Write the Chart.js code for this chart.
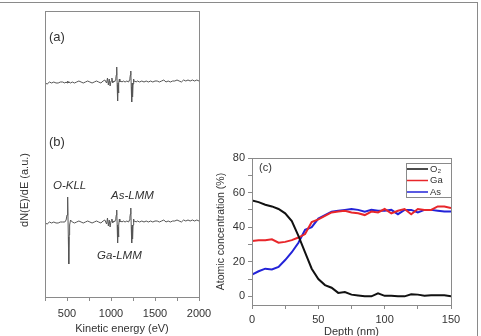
<!DOCTYPE html>
<html>
<head>
<meta charset="utf-8">
<script src="https://cdn.jsdelivr.net/npm/chart.js@4.4.1/dist/chart.umd.min.js"></script>
<style>
  html, body { margin: 0; padding: 0; background: #fff; overflow: hidden; }
  #khung { position: absolute; left: 0; top: 2px; width: 477px; height: 340px;
           border-top: 1px solid #8a8a8a; border-right: 1px solid #8a8a8a; }
  #bdPho { position: absolute; left: 0; top: 0; }
  #bdSau { position: absolute; left: 200px; top: 140px; }
</style>
</head>
<body>
<div id="khung"></div>
<canvas id="bdPho" width="240" height="336"></canvas>
<canvas id="bdSau" width="281" height="196"></canvas>
<script>
// Phổ AES (a.u.) - nang luong dong hoc (eV)
const nangLuong = [
  250, 275, 300, 325, 350, 375, 400, 425, 450, 475,
  490, 500, 505, 510, 515, 520, 525, 530, 540,
  560, 585, 610, 635, 660, 685, 710, 735, 760, 785,
  810, 835, 860, 885, 910, 930,
  950, 960, 970, 980, 990, 1000, 1010, 1020, 1030, 1040,
  1050, 1055, 1060, 1065, 1070, 1075, 1080, 1085, 1090, 1095,
  1100, 1110, 1125, 1140, 1160, 1180, 1200,
  1210, 1215, 1220, 1225, 1230, 1235, 1240, 1245, 1250, 1255,
  1260, 1270, 1285, 1300,
  1325, 1350, 1375, 1400, 1425, 1450, 1475, 1500,
  1525, 1550, 1575, 1600, 1625, 1650, 1675, 1700,
  1725, 1750, 1775, 1800, 1825, 1850, 1875, 1900,
  1925, 1950, 1975, 2000
];
const phoA = [
  214, 213, 215, 214, 215, 214, 214, 215, 215, 214,
  215, 214, 215, 216, 215, 214, 215, 215, 214,
  215, 214, 215, 216, 215, 214, 215, 216, 215, 214,
  215, 216, 215, 214, 216, 217,
  214, 219, 212, 218, 211, 216, 219, 214, 216, 215,
  217, 219, 222, 230, 212, 196, 214, 204, 214, 218,
  215, 216, 215, 216, 215, 216, 215,
  217, 219, 222, 226, 210, 195, 214, 200, 213, 218,
  215, 216, 215, 216,
  215, 216, 215, 216, 215, 216, 215, 216,
  216, 215, 216, 217, 215, 216, 215, 216,
  216, 217, 216, 215, 217, 216, 217, 216,
  217, 216, 217, 216
];
const phoB = [
  74, 73, 75, 74, 75, 74, 74, 75, 75, 75,
  77, 82, 90, 100, 60, 33, 62, 72, 77,
  75, 74, 75, 76, 75, 74, 75, 76, 75, 74,
  75, 76, 75, 74, 76, 77,
  73, 79, 71, 77, 70, 76, 78, 74, 76, 75,
  77, 79, 82, 87, 72, 54, 70, 60, 72, 78,
  75, 76, 75, 76, 75, 76, 75,
  77, 80, 83, 89, 70, 54, 72, 58, 72, 78,
  75, 76, 75, 76,
  75, 76, 75, 76, 75, 76, 75, 76,
  76, 75, 76, 77, 75, 76, 75, 76,
  76, 77, 76, 75, 77, 76, 77, 76,
  77, 76, 77, 76
];

// Nong do nguyen tu theo do sau
const doSau = [0, 5, 10, 15, 20, 25, 30, 35, 40, 45, 50, 55, 60, 65, 70, 75,
  80, 85, 90, 95, 100, 105, 110, 115, 120, 125, 130, 135, 140, 145, 150];
const nongDoO2 = [55.5, 54.5, 53, 52, 50.5, 48, 43.5, 35, 25.5, 16, 10, 6.5, 5, 2, 2.5, 1,
  0.5, 0, 0, 1.8, 0.3, 0.3, 0, 0, 1.2, 1, 0.3, 0.6, 0.6, 0.6, 0];
const nongDoGa = [32, 32.5, 32.5, 33, 31, 31.5, 32.5, 34, 36, 43, 44.5, 46.5, 48.5, 49, 49.5, 48.5,
  48, 47, 49, 48.5, 50.5, 48, 49.5, 50.5, 47.5, 50.5, 50, 50, 52, 52, 51];
const nongDoAs = [12.5, 14.5, 16, 15.5, 17, 21, 25.5, 31, 38.5, 40, 45, 47, 49, 49.5, 50, 50.5,
  50, 49, 50, 49.5, 49.5, 50, 47.5, 50, 50, 48.5, 50, 50, 49.5, 49, 49];
const tenChuoi = ['O₂', 'Ga', 'As'];
// vach chia truc tung (co nhan o 0, 20, 40, ...)
const vachTrucTung = [0, 10, 20, 30, 40, 50, 60, 70, 80];

const FONT = '"Liberation Sans", Arial, sans-serif';
const mauKhung = '#8a8a8a';
const mauChu = '#333';

Chart.defaults.font.family = FONT;
Chart.defaults.color = mauChu;

const veKhung = {
  id: 'veKhung',
  afterDraw(chart) {
    const a = chart.chartArea, c = chart.ctx;
    c.save();
    c.strokeStyle = mauKhung;
    c.lineWidth = 1;
    c.strokeRect(Math.round(a.left) + 0.5, Math.round(a.top) + 0.5,
      Math.round(a.right - a.left), Math.round(a.bottom - a.top));
    c.restore();
  }
};

function ghepDiem(xs, ys) {
  return xs.map((x, i) => ({ x: x, y: ys[i] }));
}

// Bieu do pho ben trai
const nhanPho = {
  id: 'nhanPho',
  afterDraw(chart) {
    const c = chart.ctx;
    c.save();
    c.fillStyle = mauChu;
    c.textBaseline = 'middle';
    c.font = '13px ' + FONT;
    c.fillText('(a)', 49, 37);
    c.fillText('(b)', 49, 142);
    c.font = 'italic 11.5px ' + FONT;
    c.fillText('O-KLL', 53, 186);
    c.fillText('As-LMM', 111, 196);
    c.fillText('Ga-LMM', 97, 256);
    c.translate(25, 190);
    c.rotate(-Math.PI / 2);
    c.textAlign = 'center';
    c.font = '11px ' + FONT;
    c.fillText('dN(E)/dE (a.u.)', 0, 0);
    c.restore();
  }
};

new Chart(document.getElementById('bdPho').getContext('2d'), {
  type: 'line',
  data: {
    datasets: [
      { label: '(a)', data: ghepDiem(nangLuong, phoA), borderColor: '#555', borderWidth: 1, pointRadius: 0 },
      { label: '(b)', data: ghepDiem(nangLuong, phoB), borderColor: '#555', borderWidth: 1, pointRadius: 0 }
    ]
  },
  options: {
    responsive: false,
    animation: false,
    layout: { padding: { left: 45, top: 11, right: 41, bottom: 0 } },
    plugins: { legend: { display: false }, tooltip: { enabled: false } },
    scales: {
      x: {
        type: 'linear', min: 250, max: 2000,
        afterFit(s) { s.height = 39; },
        ticks: {
          stepSize: 250, autoSkip: false, maxRotation: 0, padding: 6,
          font: { size: 11 },
          callback: v => (v % 500 === 0 ? String(v) : '')
        },
        grid: { drawOnChartArea: false, tickLength: 4, color: mauKhung },
        border: { display: false },
        title: { display: true, text: 'Kinetic energy (eV)', font: { size: 11 }, padding: { top: 0, bottom: 0 } }
      },
      y: { display: false, min: 0, max: 286 }
    }
  },
  plugins: [veKhung, nhanPho]
});

// Bieu do nong do ben phai
const chuThich = {
  id: 'chuThich',
  afterDraw(chart) {
    const a = chart.chartArea, c = chart.ctx;
    const w = 45, h = 34;
    const x0 = Math.round(a.right) - w, y0 = Math.round(a.top) + 5;
    c.save();
    c.fillStyle = '#fff';
    c.fillRect(x0, y0, w, h);
    c.strokeStyle = mauKhung;
    c.lineWidth = 1;
    c.strokeRect(x0 + 0.5, y0 + 0.5, w, h);
    c.font = '9.5px ' + FONT;
    c.textBaseline = 'middle';
    chart.data.datasets.forEach((ds, i) => {
      const y = y0 + 6 + i * 11.5;
      c.strokeStyle = ds.borderColor;
      c.lineWidth = 1.5;
      c.beginPath();
      c.moveTo(x0 + 1, y);
      c.lineTo(x0 + 22, y);
      c.stroke();
      c.fillStyle = mauChu;
      c.fillText(ds.label, x0 + 24, y);
    });
    c.fillStyle = mauChu;
    c.font = '11px ' + FONT;
    c.fillText('(c)', a.left + 7, a.top + 10);
    c.restore();
  }
};

new Chart(document.getElementById('bdSau').getContext('2d'), {
  type: 'line',
  data: {
    datasets: [
      { label: tenChuoi[0], data: ghepDiem(doSau, nongDoO2), borderColor: '#111', borderWidth: 2, pointRadius: 0 },
      { label: tenChuoi[1], data: ghepDiem(doSau, nongDoGa), borderColor: '#e8262a', borderWidth: 2, pointRadius: 0 },
      { label: tenChuoi[2], data: ghepDiem(doSau, nongDoAs), borderColor: '#2323d8', borderWidth: 2, pointRadius: 0 }
    ]
  },
  options: {
    responsive: false,
    animation: false,
    layout: { padding: { left: 11, top: 18, right: 30, bottom: 0 } },
    plugins: { legend: { display: false }, tooltip: { enabled: false } },
    scales: {
      x: {
        type: 'linear', min: 0, max: 150,
        afterFit(s) { s.height = 31; },
        ticks: {
          stepSize: 25, autoSkip: false, maxRotation: 0, padding: 4,
          font: { size: 11 },
          callback: v => (v % 50 === 0 ? String(v) : '')
        },
        grid: { drawOnChartArea: false, tickLength: 4, color: mauKhung },
        border: { display: false },
        title: { display: true, text: 'Depth (nm)', font: { size: 11 }, padding: { top: 0, bottom: -3 } }
      },
      y: {
        type: 'linear', min: -5, max: 80,
        afterFit(s) { s.width = 41; },
        afterBuildTicks(s) { s.ticks = vachTrucTung.map(v => ({ value: v })); },
        ticks: {
          autoSkip: false, padding: 3,
          font: { size: 11 },
          callback: v => (v % 20 === 0 ? String(v) : '')
        },
        grid: { drawOnChartArea: false, tickLength: 4, color: mauKhung },
        border: { display: false },
        title: { display: true, text: 'Atomic concentration (%)', font: { size: 10.5 }, padding: { top: 4, bottom: 0 } }
      }
    }
  },
  plugins: [veKhung, chuThich]
});
</script>
</body>
</html>
